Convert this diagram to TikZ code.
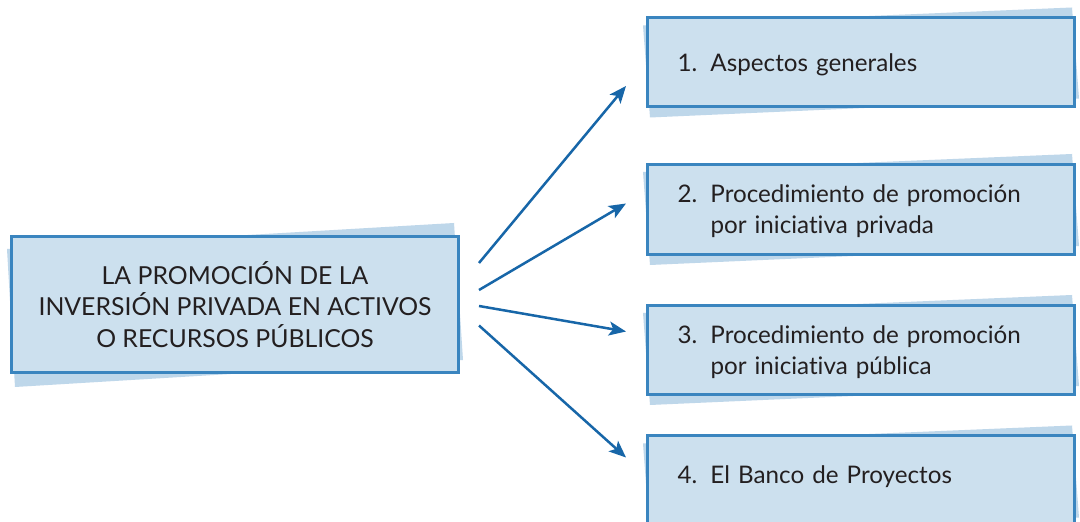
\documentclass[tikz,border=0pt]{standalone}
\usepackage{fontspec}
\setmainfont{Lato}[Ligatures=CommonOff]
\usetikzlibrary{arrows.meta,backgrounds}
\definecolor{boxfill}{HTML}{CCE0EE}
\definecolor{boxdraw}{HTML}{3A85BF}
\definecolor{boxshade}{HTML}{BED7EA}
\definecolor{arrowblue}{HTML}{1766A8}
\definecolor{textgray}{HTML}{231F20}

\begin{document}
\begin{tikzpicture}[x=1pt, y=1pt,
    topic/.style={
        rectangle,
        minimum width=447pt,
        minimum height=136pt,
        draw=boxdraw,
        line width=3pt,
        fill=boxfill,
        text=textgray,
        align=center,
        font=\fontsize{24.8}{31.6}\selectfont
    },
    part/.style={
        rectangle,
        minimum width=427pt,
        minimum height=89pt,
        text width=367pt,
        text height=22pt,
        inner xsep=30pt,
        draw=boxdraw,
        line width=3pt,
        fill=boxfill,
        text=textgray,
        align=left,
        font=\fontsize{24.2}{31}\selectfont
    },
    link/.style={
        -{Stealth[length=17pt, width=14pt, inset=4pt]},
        line width=2.5pt,
        draw=arrowblue
    }
]
\useasboundingbox (0,0) rectangle (1080,522);

% Boxes
\node[topic] (promo) at (235,217.5) {LA PROMOCIÓN DE LA\\INVERSIÓN PRIVADA EN ACTIVOS\\O RECURSOS PÚBLICOS};
\node[part] (aspectos) at (861,459.5) {\makebox[33pt][l]{1.}Aspectos generales};
\node[part, minimum height=90pt] (privada) at (861,312.5) {\makebox[33pt][l]{2.}Procedimiento de promoción\\\hspace*{33pt}por iniciativa privada};
\node[part] (publica) at (861,172) {\makebox[33pt][l]{3.}Procedimiento de promoción\\\hspace*{33pt}por iniciativa pública};
\node[part, minimum height=90pt, text depth=16pt] (banco) at (861,41) {\makebox[33pt][l]{4.}El Banco de Proyectos};

% Shadows
\begin{scope}[on background layer]
\fill[white] (0,0) rectangle (1080,522);
\fill[boxshade] ([shift={(-3,-14)}]promo.north west) -- ([shift={(-6,12)}]promo.north east)
    -- ([shift={(3,14)}]promo.south east) -- ([shift={(5,-13)}]promo.south west) -- cycle;
\foreach \b in {aspectos,privada,publica,banco}
    \fill[boxshade] ([shift={(-3,-9)}]\b.north west) -- ([shift={(-4,9)}]\b.north east)
        -- ([shift={(3,10)}]\b.south east) -- ([shift={(4,-9)}]\b.south west) -- cycle;
\end{scope}

% Arrows
\draw[link] ([xshift=19pt, yshift=41.5pt]promo.east) -- ([xshift=-20pt, yshift=-23.5pt]aspectos.west);
\draw[link] ([xshift=19pt, yshift=14.5pt]promo.east) -- ([xshift=-20pt, yshift=6pt]privada.west);
\draw[link] ([xshift=19pt, yshift=-1.5pt]promo.east) -- ([xshift=-20pt, yshift=18.5pt]publica.west);
\draw[link] ([xshift=19pt, yshift=-21pt]promo.east) -- ([xshift=-20pt, yshift=23.5pt]banco.west);

\end{tikzpicture}
\end{document}
